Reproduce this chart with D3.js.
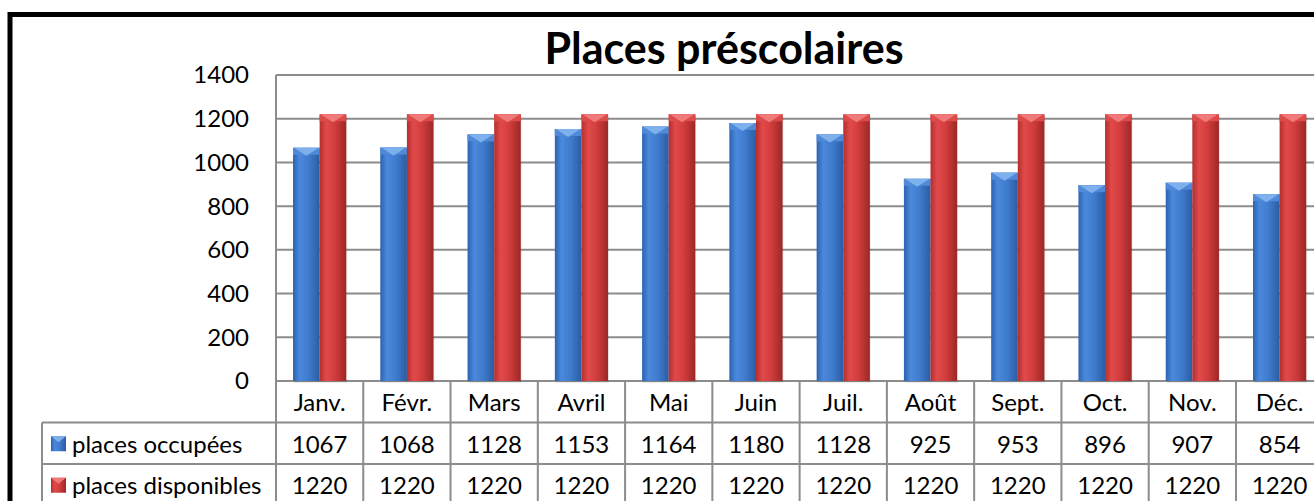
<!DOCTYPE html>
<html>
<head>
<meta charset="utf-8">
<script src="https://cdn.jsdelivr.net/npm/d3@7"></script>
<style>
  body { margin: 0; background: #fff; }
  text { font-family: Lato, "Open Sans", sans-serif; fill: #000; }
</style>
</head>
<body>
<script>
var months = ["Janv.", "Févr.", "Mars", "Avril", "Mai", "Juin", "Juil.", "Août", "Sept.", "Oct.", "Nov.", "Déc."];
var occupees = [1067, 1068, 1128, 1153, 1164, 1180, 1128, 925, 953, 896, 907, 854];
var disponibles = [1220, 1220, 1220, 1220, 1220, 1220, 1220, 1220, 1220, 1220, 1220, 1220];
var seriesNames = ["places occupées", "places disponibles"];
var yTicks = [0, 200, 400, 600, 800, 1000, 1200, 1400];

var width = 1314, height = 501;
var plotLeft = 276, plotTop = 75, plotBottom = 381;
var bandW = 87.27;
var rowH = 41.5;

var svg = d3.select("body").append("svg")
  .attr("width", width)
  .attr("height", height);

// gradients for the bevelled bars
var defs = svg.append("defs");
var grads = [
  {id: "gBlue", stops: ["#2d62ae", "#4b89dd", "#3f7bcc", "#2b5ca3"]},
  {id: "gRed", stops: ["#b32e2e", "#e24a4a", "#cf3b3b", "#9c2727"]}
];
grads.forEach(function(g) {
  var lg = defs.append("linearGradient").attr("id", g.id)
    .attr("x1", "0%").attr("x2", "100%").attr("y1", "0%").attr("y2", "0%");
  [0, 25, 60, 100].forEach(function(o, i) {
    lg.append("stop").attr("offset", o + "%").attr("stop-color", g.stops[i]);
  });
});
var fills = ["url(#gBlue)", "url(#gRed)"];
var capLight = ["#7fb0ee", "#f07a7a"];
var capSide = ["#4f8ad8", "#dc4a4a"];

// outer frame
svg.append("rect")
  .attr("x", 10).attr("y", 14.5)
  .attr("width", 1330).attr("height", 520)
  .attr("fill", "none").attr("stroke", "#000").attr("stroke-width", 5);

var x = d3.scaleBand().domain(months).range([plotLeft, plotLeft + bandW * months.length]).padding(0);
var x1 = d3.scaleBand().domain([0, 1]).range([bandW * 0.195, bandW * 0.805]).padding(0);
var y = d3.scaleLinear().domain([0, 1400]).range([plotBottom, plotTop]);

// gridlines
svg.append("g").selectAll("line").data(yTicks).enter().append("line")
  .attr("x1", plotLeft).attr("x2", plotLeft + bandW * 12)
  .attr("y1", function(d) { return y(d); })
  .attr("y2", function(d) { return y(d); })
  .attr("stroke", "#8c8c8c").attr("stroke-width", 2);

svg.append("line")
  .attr("x1", plotLeft).attr("x2", plotLeft).attr("y1", plotTop).attr("y2", plotBottom)
  .attr("stroke", "#8c8c8c").attr("stroke-width", 2);

// y labels
svg.append("g").selectAll("text").data(yTicks).enter().append("text")
  .attr("x", 249)
  .attr("y", function(d) { return y(d); })
  .attr("dy", "0.35em")
  .attr("text-anchor", "end")
  .style("font-size", "24px")
  .text(function(d) { return d; });

// bars
var data = months.map(function(m, i) { return {month: m, values: [occupees[i], disponibles[i]]}; });
var groups = svg.append("g").selectAll("g").data(data).enter().append("g")
  .attr("transform", function(d) { return "translate(" + x(d.month) + ",0)"; });

var bars = groups.selectAll("g").data(function(d) { return d.values.map(function(v, k) { return {k: k, v: v}; }); })
  .enter().append("g");

bars.append("rect")
  .attr("x", function(d) { return x1(d.k) + 1; })
  .attr("y", function(d) { return y(d.v) + 2; })
  .attr("width", x1.bandwidth())
  .attr("height", function(d) { return plotBottom - y(d.v); })
  .attr("fill", "#000").attr("opacity", 0.08);

bars.append("rect")
  .attr("x", function(d) { return x1(d.k); })
  .attr("y", function(d) { return y(d.v); })
  .attr("width", x1.bandwidth())
  .attr("height", function(d) { return plotBottom - y(d.v); })
  .attr("fill", function(d) { return fills[d.k]; });

var capH = 7;
bars.append("path")
  .attr("d", function(d) {
    var x0 = x1(d.k), w = x1.bandwidth(), t = y(d.v);
    return "M" + x0 + "," + t + "L" + (x0 + w) + "," + t + "L" + (x0 + w) + "," + (t + capH) +
      "L" + x0 + "," + (t + capH) + "Z";
  })
  .attr("fill", function(d) { return capSide[d.k]; });
bars.append("path")
  .attr("d", function(d) {
    var x0 = x1(d.k), w = x1.bandwidth(), t = y(d.v);
    return "M" + (x0 + 1) + "," + t + "L" + (x0 + w - 1) + "," + t + "L" + (x0 + w / 2) + "," + (t + capH + 1) + "Z";
  })
  .attr("fill", function(d) { return capLight[d.k]; });

// table
var tableLeft = 42;
var tbl = svg.append("g");
var lineColor = "#8c8c8c";
[plotBottom + rowH, plotBottom + 2 * rowH].forEach(function(yy) {
  tbl.append("line").attr("x1", tableLeft).attr("x2", plotLeft + bandW * 12)
    .attr("y1", yy).attr("y2", yy).attr("stroke", lineColor).attr("stroke-width", 2);
});
tbl.append("line").attr("x1", tableLeft).attr("x2", tableLeft)
  .attr("y1", plotBottom + rowH).attr("y2", height + 10).attr("stroke", lineColor).attr("stroke-width", 2);
tbl.selectAll("line.v").data(d3.range(13)).enter().append("line")
  .attr("x1", function(i) { return plotLeft + i * bandW; })
  .attr("x2", function(i) { return plotLeft + i * bandW; })
  .attr("y1", plotBottom).attr("y2", height + 10)
  .attr("stroke", lineColor).attr("stroke-width", 2);

tbl.selectAll("text.m").data(months).enter().append("text")
  .attr("x", function(d) { return x(d) + bandW / 2; })
  .attr("y", plotBottom + rowH / 2 + 1)
  .attr("dy", "0.35em").attr("text-anchor", "middle")
  .style("font-size", "24px")
  .text(function(d) { return d; });

[occupees, disponibles].forEach(function(vals, r) {
  var cy = plotBottom + rowH * (r + 1.5) + 1;
  tbl.selectAll("text.r" + r).data(vals).enter().append("text")
    .attr("x", function(d, i) { return x(months[i]) + bandW / 2; })
    .attr("y", cy)
    .attr("dy", "0.35em").attr("text-anchor", "middle")
    .style("font-size", "24px")
    .text(function(d) { return d; });

  tbl.append("rect")
    .attr("x", 51).attr("y", cy - 8)
    .attr("width", 15).attr("height", 15)
    .attr("fill", fills[r]);
  tbl.append("path")
    .attr("d", "M51," + (cy - 8) + "L66," + (cy - 8) + "L58.5," + (cy - 2) + "Z")
    .attr("fill", capLight[r]);
  tbl.append("text")
    .attr("x", 72).attr("y", cy)
    .attr("dy", "0.35em")
    .style("font-size", "24px")
    .text(seriesNames[r]);
});

// title
svg.append("text")
  .attr("x", 724).attr("y", 64)
  .attr("text-anchor", "middle")
  .style("font-size", "43px").style("font-weight", "bold")
  .text("Places préscolaires");
</script>
</body>
</html>
